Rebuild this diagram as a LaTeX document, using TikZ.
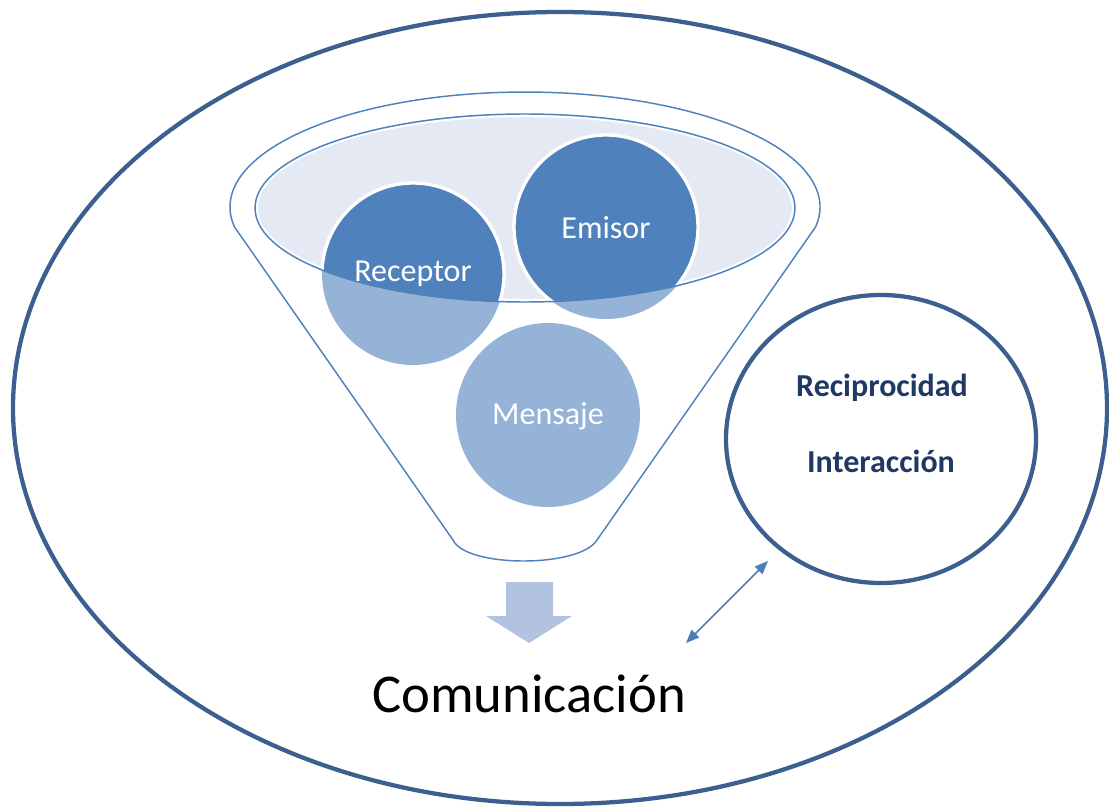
\documentclass[tikz,border=0pt]{standalone}
\usepackage{fontspec}
\setmainfont{Carlito}
\usetikzlibrary{arrows.meta}
\definecolor{outerblue}{HTML}{3B5F8E}
\definecolor{funnelblue}{HTML}{4F81BD}
\definecolor{darkc}{HTML}{4F81BD}
\definecolor{lightc}{HTML}{95B3D7}
\definecolor{rimfill}{HTML}{E4E9F3}
\definecolor{navy}{HTML}{1F3864}
\definecolor{blockc}{HTML}{B3C3DF}
\definecolor{arrowc}{HTML}{4A7EBB}
\tikzset{
  circlabel/.style={text=white,font=\fontsize{24}{28}\selectfont},
  boldlabel/.style={text=navy,font=\fontsize{24}{28}\selectfont\bfseries},
  thickline/.style={outerblue,line width=3.2pt},
  thinline/.style={funnelblue,line width=1.1pt,line join=round}
}
\begin{document}
\begin{tikzpicture}[x=0.75pt,y=0.75pt]
\useasboundingbox (0,0) rectangle (1109,-809);
% outer ellipse
\draw[thickline] (560,-408) ellipse [x radius=547, y radius=396];
% funnel body
\draw[thinline] (453,-540) -- (234.5,-227) arc[start angle=190,end angle=-10,x radius=295,y radius=115] -- (597,-540) .. controls (580,-568) and (466,-568) .. (453,-540) -- cycle;
% inner ellipse fill
\fill[rimfill] (525,-208) ellipse [x radius=270, y radius=94];
\draw[white,line width=1.5pt] (525,-208) ellipse [x radius=268, y radius=92];
% light circles
\fill[lightc] (413,-274) circle[radius=91];
\fill[lightc] (606,-227) circle[radius=92];
\fill[lightc] (548,-415) circle[radius=92];
% dark parts inside ellipse
\begin{scope}
\clip (525,-208) ellipse [x radius=270, y radius=94];
\draw[white,line width=2.5pt,fill=darkc] (413,-274) circle[radius=91];
\draw[white,line width=2.5pt,fill=darkc] (606,-227) circle[radius=92];
\end{scope}
\draw[thinline] (525,-208) ellipse [x radius=270, y radius=94];
% labels
\node[circlabel] (receptor) at (413,-274) {Receptor};
\node[circlabel] (emisor) at (606,-228) {Emisor};
\node[circlabel] (mensaje) at (548,-416) {Mensaje};
% right circle
\draw[thickline] (881,-439) ellipse [x radius=155, y radius=144];
\node[boldlabel] (recip) at (882,-388) {Reciprocidad};
\node[boldlabel] (inter) at (881,-461) {Interacción};
% block arrow
\fill[blockc] (506,-582) -- (553,-582) -- (553,-616) -- (572,-616) -- (529,-643) -- (486,-616) -- (506,-616) -- cycle;
% comunicacion
\node[font=\fontsize{41}{49}\selectfont] (com) at (529,-694) {Comunicación};
% double arrow
\coordinate (a1) at (686,-643);
\coordinate (a2) at (768,-561);
\draw[arrowc,line width=1.1pt,{Triangle[length=10pt,width=8pt]}-{Triangle[length=10pt,width=8pt]}] (a1) -- (a2);
\end{tikzpicture}
\end{document}
